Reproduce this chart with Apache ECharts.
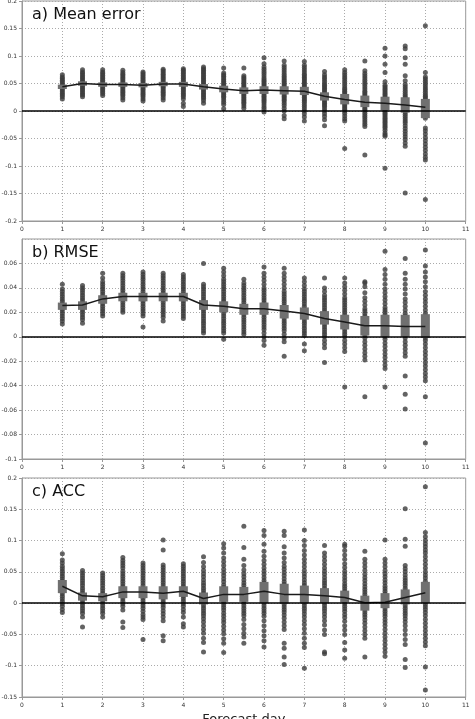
<!DOCTYPE html>
<html><head><meta charset="utf-8">
<script src="https://cdn.jsdelivr.net/npm/echarts@6/dist/echarts.min.js"></script>
<style>html,body{margin:0;padding:0;background:#fff;}#c{width:475px;height:719px;}</style>
</head><body><div id="c"></div>
<script>
const days = [1,1.5,2,2.5,3,3.5,4,4.5,5,5.5,6,6.5,7,7.5,8,8.5,9,9.5,10];
const xTicks = [0,1,2,3,4,5,6,7,8,9,10,11];

// a) Mean error
const ptsA = [
 [0.066,0.062,0.059,0.056,0.053,0.050,0.047,0.044,0.041,0.038,0.035,0.032,0.029,0.026,0.022],
 [0.075,0.071,0.068,0.065,0.062,0.059,0.056,0.053,0.050,0.047,0.044,0.041,0.038,0.035,0.032,0.029,0.026],
 [0.075,0.071,0.068,0.065,0.062,0.059,0.056,0.053,0.050,0.047,0.044,0.041,0.038,0.035,0.032,0.028],
 [0.074,0.070,0.067,0.064,0.061,0.058,0.055,0.052,0.049,0.046,0.043,0.040,0.037,0.034,0.031,0.028,0.024,0.020],
 [0.071,0.068,0.065,0.062,0.059,0.056,0.053,0.050,0.047,0.044,0.041,0.038,0.035,0.032,0.029,0.026,0.022,0.018],
 [0.076,0.073,0.070,0.067,0.064,0.061,0.058,0.055,0.052,0.049,0.046,0.043,0.040,0.037,0.034,0.031,0.028,0.024,0.020],
 [0.077,0.074,0.071,0.068,0.065,0.062,0.059,0.056,0.053,0.050,0.047,0.044,0.041,0.038,0.035,0.032,0.029,0.026,0.022,0.014,0.008],
 [0.080,0.077,0.074,0.071,0.068,0.065,0.062,0.059,0.056,0.053,0.050,0.047,0.044,0.041,0.038,0.035,0.032,0.029,0.026,0.023,0.019,0.014],
 [0.078,0.069,0.066,0.063,0.060,0.057,0.054,0.051,0.048,0.045,0.042,0.039,0.036,0.033,0.030,0.027,0.024,0.020,0.016,0.012,0.004],
 [0.078,0.064,0.061,0.058,0.055,0.052,0.049,0.046,0.043,0.040,0.037,0.034,0.031,0.028,0.025,0.022,0.019,0.016,0.013,0.009,0.005],
 [0.097,0.086,0.080,0.076,0.072,0.068,0.064,0.060,0.057,0.054,0.051,0.048,0.045,0.042,0.039,0.036,0.033,0.030,0.027,0.024,0.021,0.018,0.015,0.011,0.007,0.003,-0.002],
 [0.091,0.083,0.079,0.075,0.071,0.067,0.063,0.060,0.057,0.054,0.051,0.048,0.045,0.042,0.039,0.036,0.033,0.030,0.027,0.024,0.021,0.018,0.014,0.010,0.005,0.000,-0.008,-0.014],
 [0.090,0.083,0.079,0.075,0.071,0.067,0.064,0.061,0.058,0.055,0.052,0.049,0.046,0.043,0.040,0.037,0.034,0.031,0.028,0.025,0.022,0.019,0.016,0.012,0.008,0.004,0.000,-0.005,-0.011,-0.018],
 [0.072,0.066,0.062,0.058,0.054,0.050,0.047,0.044,0.041,0.038,0.035,0.032,0.029,0.026,0.023,0.020,0.017,0.014,0.011,0.008,0.004,0.000,-0.005,-0.010,-0.016,-0.027],
 [0.075,0.070,0.066,0.062,0.058,0.054,0.050,0.046,0.042,0.039,0.036,0.033,0.030,0.027,0.024,0.021,0.018,0.015,0.012,0.009,0.006,0.003,0.000,-0.004,-0.009,-0.014,-0.018,-0.068],
 [0.091,0.073,0.068,0.064,0.060,0.056,0.052,0.048,0.044,0.040,0.036,0.033,0.030,0.027,0.024,0.021,0.018,0.015,0.012,0.009,0.006,0.003,0.000,-0.004,-0.008,-0.012,-0.016,-0.020,-0.024,-0.028,-0.080],
 [0.114,0.100,0.085,0.070,0.053,0.047,0.044,0.041,0.038,0.035,0.032,0.029,0.026,0.023,0.020,0.017,0.014,0.011,0.008,0.005,0.002,-0.001,-0.004,-0.007,-0.010,-0.013,-0.016,-0.019,-0.022,-0.025,-0.028,-0.031,-0.035,-0.040,-0.043,-0.046,-0.104],
 [0.118,0.113,0.097,0.085,0.064,0.055,0.048,0.044,0.040,0.036,0.032,0.028,0.025,0.022,0.019,0.016,0.013,0.010,0.007,0.004,0.001,-0.002,-0.006,-0.010,-0.014,-0.018,-0.022,-0.027,-0.032,-0.037,-0.042,-0.047,-0.052,-0.058,-0.064,-0.149],
 [0.155,0.070,0.062,0.058,0.054,0.050,0.046,0.042,0.038,0.034,0.030,0.027,0.024,0.021,0.018,0.015,0.012,0.009,0.006,0.003,0.000,-0.003,-0.006,-0.009,-0.013,-0.031,-0.036,-0.042,-0.048,-0.054,-0.060,-0.066,-0.072,-0.078,-0.084,-0.089,-0.161]
];
const lineA = [0.044,0.050,0.048,0.048,0.047,0.049,0.049,0.044,0.040,0.037,0.038,0.037,0.036,0.027,0.021,0.016,0.014,0.011,0.007];
const boxLoA = [0.040,0.046,0.044,0.044,0.043,0.045,0.044,0.039,0.034,0.031,0.031,0.030,0.029,0.019,0.012,0.007,0.001,-0.003,-0.013];
const boxHiA = [0.048,0.054,0.052,0.052,0.051,0.053,0.053,0.049,0.046,0.043,0.045,0.045,0.044,0.034,0.031,0.028,0.026,0.025,0.022];

// b) RMSE
const ptsB = [
 [0.043,0.039,0.037,0.035,0.033,0.031,0.029,0.027,0.025,0.023,0.021,0.019,0.017,0.015,0.013,0.0105],
 [0.042,0.040,0.038,0.036,0.034,0.032,0.030,0.028,0.026,0.024,0.022,0.020,0.018,0.016,0.014,0.011],
 [0.052,0.048,0.045,0.043,0.041,0.039,0.037,0.035,0.033,0.031,0.029,0.027,0.025,0.023,0.021,0.019,0.017],
 [0.052,0.050,0.048,0.046,0.044,0.042,0.040,0.038,0.036,0.034,0.032,0.030,0.028,0.026,0.024,0.022,0.020],
 [0.053,0.051,0.049,0.047,0.045,0.043,0.041,0.039,0.037,0.035,0.033,0.031,0.029,0.027,0.025,0.023,0.021,0.019,0.017,0.008],
 [0.052,0.050,0.048,0.046,0.044,0.042,0.040,0.038,0.036,0.034,0.032,0.030,0.028,0.026,0.024,0.022,0.020,0.018,0.016,0.013],
 [0.051,0.049,0.047,0.045,0.043,0.041,0.039,0.037,0.035,0.033,0.031,0.029,0.027,0.025,0.023,0.021,0.019,0.017,0.015],
 [0.060,0.043,0.041,0.039,0.037,0.035,0.033,0.031,0.029,0.027,0.025,0.023,0.021,0.019,0.017,0.015,0.013,0.011,0.009,0.007,0.005,0.003],
 [0.056,0.053,0.050,0.047,0.045,0.043,0.041,0.039,0.037,0.035,0.033,0.031,0.029,0.027,0.025,0.023,0.021,0.019,0.017,0.015,0.013,0.011,0.009,0.007,0.005,0.003,-0.002],
 [0.047,0.044,0.042,0.040,0.038,0.036,0.034,0.032,0.030,0.028,0.026,0.024,0.022,0.020,0.018,0.016,0.014,0.012,0.010,0.008,0.006,0.004,0.002],
 [0.057,0.052,0.049,0.046,0.043,0.040,0.038,0.036,0.034,0.032,0.030,0.028,0.026,0.024,0.022,0.020,0.018,0.016,0.014,0.012,0.010,0.008,0.006,0.003,0.000,-0.003,-0.007],
 [0.056,0.052,0.049,0.046,0.043,0.040,0.037,0.035,0.033,0.031,0.029,0.027,0.025,0.023,0.021,0.019,0.017,0.015,0.013,0.011,0.009,0.007,0.005,0.002,-0.001,-0.004,-0.016],
 [0.048,0.045,0.042,0.039,0.037,0.035,0.033,0.031,0.029,0.027,0.025,0.023,0.021,0.019,0.017,0.015,0.013,0.011,0.009,0.007,0.005,0.003,0.001,-0.006,-0.0115],
 [0.048,0.040,0.037,0.034,0.032,0.030,0.028,0.026,0.024,0.022,0.020,0.018,0.016,0.014,0.012,0.010,0.008,0.006,0.004,0.002,0.000,-0.003,-0.006,-0.009,-0.021],
 [0.048,0.044,0.041,0.038,0.035,0.032,0.030,0.028,0.026,0.024,0.022,0.020,0.018,0.016,0.014,0.012,0.010,0.008,0.006,0.004,0.002,0.000,-0.003,-0.006,-0.009,-0.012,-0.041],
 [0.045,0.044,0.041,0.036,0.032,0.029,0.026,0.023,0.021,0.019,0.017,0.015,0.013,0.011,0.009,0.007,0.005,0.003,0.001,-0.001,-0.004,-0.007,-0.010,-0.013,-0.016,-0.019,-0.049],
 [0.070,0.055,0.051,0.047,0.043,0.039,0.036,0.033,0.030,0.027,0.024,0.022,0.020,0.018,0.016,0.014,0.012,0.010,0.008,0.006,0.004,0.002,0.000,-0.002,-0.005,-0.008,-0.011,-0.014,-0.017,-0.020,-0.023,-0.026,-0.041],
 [0.064,0.052,0.047,0.043,0.039,0.035,0.031,0.028,0.025,0.022,0.019,0.017,0.015,0.013,0.011,0.009,0.007,0.005,0.003,0.001,-0.001,-0.004,-0.007,-0.010,-0.013,-0.016,-0.032,-0.047,-0.059],
 [0.071,0.058,0.053,0.049,0.045,0.041,0.037,0.034,0.031,0.028,0.025,0.022,0.019,0.017,0.015,0.013,0.011,0.009,0.007,0.005,0.003,0.001,-0.001,-0.003,-0.006,-0.009,-0.012,-0.015,-0.018,-0.021,-0.024,-0.027,-0.030,-0.033,-0.036,-0.049,-0.087]
];
const lineB = [0.0256,0.026,0.031,0.033,0.033,0.033,0.033,0.026,0.025,0.023,0.023,0.021,0.019,0.015,0.012,0.009,0.009,0.0085,0.0085];
const boxLoB = [0.022,0.022,0.027,0.029,0.029,0.029,0.029,0.022,0.020,0.018,0.018,0.015,0.014,0.010,0.006,0.001,0.000,0.000,-0.001];
const boxHiB = [0.028,0.029,0.034,0.036,0.036,0.036,0.036,0.030,0.029,0.027,0.028,0.026,0.024,0.021,0.018,0.017,0.018,0.018,0.0185];

// c) ACC
const ptsC = [
 [0.079,0.069,0.064,0.059,0.055,0.051,0.047,0.043,0.039,0.035,0.031,0.027,0.023,0.019,0.015,0.011,0.007,0.003,-0.001,-0.005,-0.010,-0.015],
 [0.052,0.048,0.044,0.040,0.036,0.032,0.028,0.024,0.020,0.016,0.012,0.008,0.004,0.000,-0.004,-0.008,-0.012,-0.016,-0.022,-0.038],
 [0.048,0.044,0.040,0.036,0.032,0.028,0.024,0.020,0.016,0.012,0.008,0.004,0.000,-0.004,-0.008,-0.012,-0.016,-0.022],
 [0.073,0.068,0.064,0.060,0.056,0.051,0.047,0.043,0.039,0.035,0.031,0.027,0.023,0.019,0.015,0.011,0.007,0.003,-0.001,-0.005,-0.011,-0.030,-0.039],
 [0.064,0.060,0.056,0.052,0.048,0.044,0.040,0.036,0.032,0.028,0.024,0.020,0.016,0.012,0.008,0.004,0.000,-0.004,-0.008,-0.013,-0.018,-0.022,-0.026,-0.058],
 [0.101,0.085,0.061,0.057,0.053,0.049,0.045,0.041,0.037,0.033,0.029,0.025,0.021,0.017,0.013,0.009,0.005,0.001,-0.003,-0.007,-0.012,-0.017,-0.022,-0.028,-0.052,-0.060],
 [0.063,0.059,0.055,0.051,0.047,0.043,0.039,0.035,0.031,0.027,0.023,0.019,0.015,0.011,0.007,0.003,-0.001,-0.005,-0.010,-0.015,-0.022,-0.033,-0.038],
 [0.074,0.065,0.058,0.052,0.047,0.042,0.037,0.032,0.028,0.024,0.020,0.016,0.012,0.008,0.004,0.000,-0.004,-0.008,-0.012,-0.016,-0.020,-0.025,-0.030,-0.036,-0.042,-0.048,-0.056,-0.063,-0.078],
 [0.095,0.088,0.080,0.072,0.066,0.060,0.054,0.049,0.044,0.039,0.034,0.029,0.025,0.021,0.017,0.013,0.009,0.005,0.001,-0.003,-0.007,-0.011,-0.016,-0.021,-0.026,-0.031,-0.037,-0.043,-0.049,-0.057,-0.064,-0.079],
 [0.123,0.089,0.070,0.060,0.053,0.047,0.042,0.037,0.032,0.028,0.024,0.020,0.016,0.012,0.008,0.004,0.000,-0.004,-0.008,-0.012,-0.016,-0.020,-0.026,-0.034,-0.041,-0.048,-0.054,-0.064],
 [0.116,0.108,0.094,0.083,0.075,0.068,0.062,0.056,0.051,0.046,0.041,0.036,0.032,0.028,0.024,0.020,0.016,0.012,0.008,0.004,0.000,-0.004,-0.008,-0.012,-0.016,-0.021,-0.028,-0.036,-0.044,-0.052,-0.060,-0.070],
 [0.115,0.108,0.090,0.080,0.072,0.065,0.059,0.054,0.049,0.044,0.039,0.034,0.030,0.026,0.022,0.018,0.014,0.010,0.006,0.002,-0.002,-0.006,-0.010,-0.014,-0.019,-0.024,-0.030,-0.036,-0.042,-0.064,-0.072,-0.086,-0.098],
 [0.117,0.100,0.092,0.084,0.077,0.070,0.064,0.058,0.052,0.047,0.042,0.037,0.032,0.028,0.024,0.020,0.016,0.012,0.008,0.004,0.000,-0.004,-0.008,-0.012,-0.017,-0.022,-0.028,-0.034,-0.041,-0.048,-0.056,-0.064,-0.071,-0.104],
 [0.092,0.080,0.074,0.068,0.062,0.056,0.051,0.046,0.041,0.036,0.032,0.028,0.024,0.020,0.016,0.012,0.008,0.004,0.000,-0.004,-0.008,-0.012,-0.017,-0.022,-0.028,-0.035,-0.043,-0.050,-0.078,-0.081],
 [0.094,0.091,0.084,0.077,0.070,0.063,0.057,0.051,0.046,0.041,0.036,0.031,0.027,0.023,0.019,0.015,0.011,0.007,0.003,-0.001,-0.005,-0.009,-0.013,-0.018,-0.023,-0.029,-0.036,-0.043,-0.050,-0.063,-0.075,-0.088],
 [0.083,0.070,0.064,0.058,0.052,0.046,0.041,0.036,0.031,0.026,0.022,0.018,0.014,0.010,0.006,0.002,-0.002,-0.006,-0.010,-0.014,-0.018,-0.022,-0.027,-0.032,-0.038,-0.044,-0.050,-0.056,-0.086],
 [0.101,0.070,0.064,0.058,0.052,0.047,0.042,0.037,0.032,0.027,0.023,0.019,0.015,0.011,0.007,0.003,-0.001,-0.005,-0.009,-0.013,-0.017,-0.021,-0.026,-0.031,-0.036,-0.042,-0.048,-0.054,-0.060,-0.066,-0.072,-0.078,-0.085],
 [0.151,0.102,0.091,0.060,0.055,0.050,0.045,0.040,0.036,0.032,0.028,0.024,0.020,0.016,0.012,0.008,0.004,0.000,-0.004,-0.008,-0.012,-0.016,-0.020,-0.025,-0.030,-0.036,-0.043,-0.050,-0.058,-0.066,-0.090,-0.103],
 [0.186,0.113,0.106,0.100,0.095,0.090,0.085,0.080,0.074,0.068,0.062,0.056,0.050,0.045,0.040,0.035,0.030,0.026,0.022,0.018,0.014,0.010,0.006,0.002,-0.002,-0.006,-0.010,-0.015,-0.020,-0.026,-0.032,-0.038,-0.044,-0.050,-0.056,-0.062,-0.068,-0.102,-0.139]
];
const lineC = [0.027,0.0117,0.0101,0.018,0.018,0.016,0.019,0.0075,0.014,0.014,0.019,0.014,0.014,0.012,0.009,0.0005,0.0015,0.009,0.0165];
const boxLoC = [0.016,0.004,0.003,0.008,0.008,0.006,0.010,-0.002,0.002,0.002,0.000,-0.001,0.000,0.000,0.001,-0.012,-0.008,-0.002,0.000];
const boxHiC = [0.037,0.017,0.016,0.027,0.027,0.027,0.027,0.017,0.027,0.026,0.034,0.031,0.028,0.024,0.020,0.012,0.016,0.022,0.034];

const titles = ['a) Mean error', 'b) RMSE', 'c) ACC'];
const yRanges = [{min:-0.2,max:0.2,interval:0.05},{min:-0.1,max:0.08,interval:0.02},{min:-0.15,max:0.2,interval:0.05}];

const panels = [
  {pts:ptsA, line:lineA, lo:boxLoA, hi:boxHiA},
  {pts:ptsB, line:lineB, lo:boxLoB, hi:boxHiB},
  {pts:ptsC, line:lineC, lo:boxLoC, hi:boxHiC}
];
const grids = [{top:1,height:220},{top:239,height:220},{top:478,height:219}];
const FONT = 'DejaVu Sans';

const chart = echarts.init(document.getElementById('c'), null, {renderer:'canvas'});
const option = {
  animation:false,
  backgroundColor:'#fff',
  title: titles.map((t,i)=>({text:t, left:27, top:grids[i].top+1, textStyle:{fontFamily:FONT,fontSize:16,fontWeight:'normal',color:'#111'}})),
  grid: grids.map(g=>({left:22,width:443.7,top:g.top,height:g.height,show:true,borderColor:'#999',borderWidth:1,backgroundColor:'transparent',containLabel:false,outerBoundsMode:'none'})),
  xAxis: grids.map((g,i)=>({
    type:'value', gridIndex:i, min:xTicks[0], max:xTicks[xTicks.length-1], interval:1,
    axisLine:{show:true,onZero:false,lineStyle:{color:'#999'}},
    axisTick:{show:true,length:3,lineStyle:{color:'#999'}},
    axisLabel:{fontFamily:FONT,fontSize:6,color:'#333',margin:5},
    splitLine:{show:true,lineStyle:{color:'#aaa',type:[1,2],width:1}},
    name: i===2 ? 'Forecast day' : '', nameLocation:'middle', nameGap:16, nameMoveOverlap:false,
    nameTextStyle:{fontFamily:FONT,fontSize:13,color:'#222',verticalAlign:'top'}
  })),
  yAxis: yRanges.map((r,i)=>({
    type:'value', gridIndex:i, min:r.min, max:r.max, interval:r.interval,
    axisLine:{show:true,lineStyle:{color:'#999'}},
    axisTick:{show:true,length:3,lineStyle:{color:'#999'}},
    axisLabel:{fontFamily:FONT,fontSize:6,color:'#333',margin:5,showMaxLabel:i!==1},
    splitLine:{show:true,lineStyle:{color:'#aaa',type:[1,2],width:1}}
  })),
  series: []
};

panels.forEach((p,i)=>{
  const scatterData = [];
  p.pts.forEach((col,j)=>col.forEach(v=>scatterData.push([days[j], v])));
  option.series.push({
    type:'scatter', xAxisIndex:i, yAxisIndex:i, data:scatterData,
    symbol:'circle', symbolSize:5, itemStyle:{color:'#3c3c3c'}, z:2, silent:true
  });
  option.series.push({
    type:'custom', xAxisIndex:i, yAxisIndex:i,
    data: days.map((d,j)=>[d, p.lo[j], p.hi[j]]),
    encode:{x:0,y:[1,2]}, z:3, silent:true,
    renderItem:(params, api)=>{
      const a = api.coord([api.value(0), api.value(2)]);
      const b = api.coord([api.value(0), api.value(1)]);
      return {type:'rect', shape:{x:a[0]-4.5, y:a[1], width:9, height:b[1]-a[1]}, style:{fill:'#707070'}};
    }
  });
  option.series.push({
    type:'line', xAxisIndex:i, yAxisIndex:i,
    data: days.map((d,j)=>[d, p.line[j]]),
    showSymbol:false, lineStyle:{color:'#1a1a1a',width:1.5}, z:4, silent:true,
    markLine:{silent:true, symbol:['none','none'], label:{show:false},
      lineStyle:{color:'#000',width:1.6,type:'solid'}, data:[{yAxis:0}]}
  });
});

chart.setOption(option);
</script>
</body></html>
